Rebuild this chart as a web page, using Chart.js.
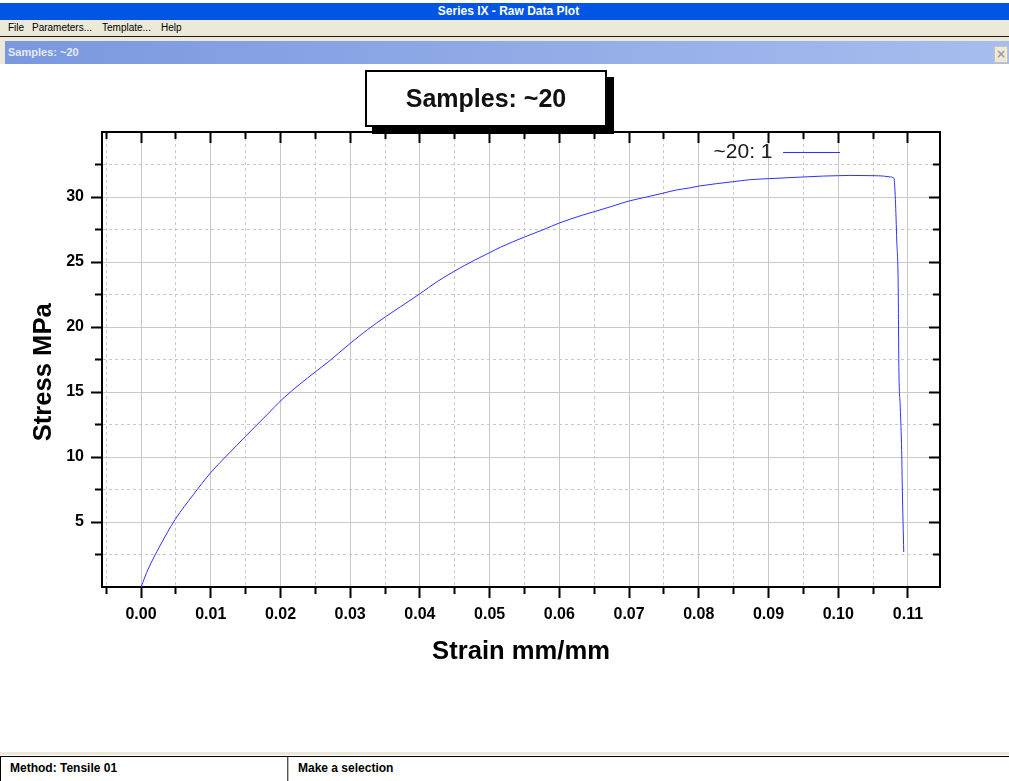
<!DOCTYPE html>
<html>
<head>
<meta charset="utf-8">
<script src="https://cdn.jsdelivr.net/npm/chart.js@4.4.1/dist/chart.umd.min.js"></script>
<style>
html,body{margin:0;padding:0;width:1009px;height:781px;overflow:hidden;background:#fff;font-family:"Liberation Sans",Arial,sans-serif;}
.abs{position:absolute;}
#topwhite{left:0;top:0;width:1009px;height:3px;background:#fff;}
#titlebar{left:0;top:3px;width:1009px;height:17px;background:#0055e5;color:#fff;font:bold 12px "Liberation Sans",Arial,sans-serif;text-align:center;line-height:17px;text-indent:8px;}
#menubar{left:0;top:20px;width:1009px;height:16px;background:#ece9d8;font:10px "Liberation Sans",Arial,sans-serif;color:#000;}
#menubar span{position:absolute;top:2px;}
#menuline{left:0;top:36px;width:1009px;height:1px;background:#1a1a1a;}
#frame{left:0;top:37px;width:1009px;height:4px;background:#ece9d8;}
#frameleft{left:0;top:41px;width:5px;height:23px;background:#ece9d8;}
#mdibar{left:5px;top:41px;width:1004px;height:23px;background:linear-gradient(to right,#7b98df,#a6bdee);color:#e4eaf8;font:bold 11px "Liberation Sans",Arial,sans-serif;line-height:23px;}
#mdibar span{position:absolute;left:3px;top:0;}
#closebtn{left:994px;top:46px;width:12px;height:15px;background:#ece9d8;border:1px solid #c8c4b8;color:#a09c94;font:bold 12px "DejaVu Sans",sans-serif;text-align:center;line-height:15px;}
#clientbottom{left:0;top:752px;width:1009px;height:3px;background:#ece9d8;}
#status{left:0;top:756px;width:1009px;height:25px;background:#fff;border-top:1px solid #000;}
#status .p{position:absolute;top:0;height:25px;font:bold 12px "Liberation Sans",Arial,sans-serif;line-height:22px;color:#000;}
#p1{left:0;width:286px;border-left:1px solid #000;border-right:1px solid #555;}
#p2{left:288px;width:721px;border-left:1px solid #bbb;}
#chart{position:absolute;left:0;top:0;z-index:1;}
#tbox{position:absolute;left:365px;top:70px;width:238px;height:53px;border:2px solid #000;background:#fff;box-shadow:7px 7px 0 #000;z-index:2;
  font:bold 25px "Liberation Sans",Arial,sans-serif;color:#111;display:flex;align-items:center;justify-content:center;}
</style>
</head>
<body>
<div class="abs" id="topwhite"></div>
<div class="abs" id="titlebar">Series IX - Raw Data Plot</div>
<div class="abs" id="menubar">
  <span style="left:8px">File</span>
  <span style="left:32px">Parameters...</span>
  <span style="left:102px">Template...</span>
  <span style="left:161px">Help</span>
</div>
<div class="abs" id="menuline"></div>
<div class="abs" id="frame"></div>
<div class="abs" id="frameleft"></div>
<div class="abs" id="mdibar"><span>Samples: ~20</span></div>
<div class="abs" id="closebtn">×</div>
<div class="abs" id="clientbottom"></div>
<div class="abs" id="status">
  <div class="p" id="p1"><span style="position:absolute;left:9px">Method: Tensile 01</span></div>
  <div class="p" id="p2"><span style="position:absolute;left:9px">Make a selection</span></div>
</div>
<canvas id="chart" width="1009" height="781"></canvas>
<div id="tbox">Samples: ~20</div>
<script>
// ---- data ----
const strain = [0, 0.0010, 0.0027, 0.0049, 0.0075, 0.0100, 0.0121, 0.0150, 0.0176, 0.0205,
  0.0250, 0.0267, 0.0300, 0.0325, 0.0351, 0.0372, 0.0400, 0.0425, 0.0450, 0.0478,
  0.0500, 0.0516, 0.0550, 0.0578, 0.0600, 0.0633, 0.0650, 0.0677, 0.0700, 0.0725,
  0.0750, 0.0768, 0.0787, 0.0800, 0.0850, 0.0873, 0.0900, 0.0950, 0.0979, 0.1000,
  0.1017, 0.1050, 0.1065, 0.1075, 0.1080, 0.1082, 0.1084, 0.1086, 0.1087, 0.1089,
  0.1091, 0.1092, 0.1094];
const stress = [0, 1.35, 3.15, 5.2, 7.1, 8.8, 10.0, 11.6, 13.0, 14.56,
  16.55, 17.25, 18.74, 19.8, 20.8, 21.55, 22.56, 23.5, 24.31, 25.13,
  25.72, 26.15, 26.92, 27.51, 28.0, 28.6, 28.87, 29.31, 29.69, 30.0,
  30.31, 30.54, 30.7, 30.84, 31.18, 31.33, 31.41, 31.54, 31.61, 31.64,
  31.66, 31.64, 31.61, 31.54, 31.43, 29.82, 26.62, 23.29, 16.9, 13.82,
  10.5, 7.43, 2.69];
const strainTicks = [-0.005, 0, 0.005, 0.01, 0.015, 0.02, 0.025, 0.03, 0.035, 0.04, 0.045, 0.05,
  0.055, 0.06, 0.065, 0.07, 0.075, 0.08, 0.085, 0.09, 0.095, 0.1, 0.105, 0.11];
const strainTickLabels = ['', '0.00', '', '0.01', '', '0.02', '', '0.03', '', '0.04', '', '0.05',
  '', '0.06', '', '0.07', '', '0.08', '', '0.09', '', '0.10', '', '0.11'];
const stressTicks = [2.5, 5, 7.5, 10, 12.5, 15, 17.5, 20, 22.5, 25, 27.5, 30, 32.5];
const stressTickLabels = ['', '5', '', '10', '', '15', '', '20', '', '25', '', '30', ''];
const seriesLabel = '~20: 1';
const xTitle = 'Strain mm/mm';
const yTitle = 'Stress MPa';
const strainRange = [-0.0056, 0.1146];
const stressRange = [0, 35];

// ---- chart ----
const FONT = '"Liberation Sans", Arial, sans-serif';
Chart.defaults.font.family = FONT;
Chart.defaults.color = '#000';

const majorOf = labels => c => labels[c.index] !== undefined && labels[c.index] !== '';
const xMajor = majorOf(strainTickLabels);
const yMajor = majorOf(stressTickLabels);
const setX = s => { s.ticks = strainTicks.map(v => ({value: v})); };
const setY = s => { s.ticks = stressTicks.map(v => ({value: v})); };
const gridColor = '#c8c8c8';

const legendInset = {
  id: 'legendInset',
  afterLayout(chart) {
    const lg = chart.legend, a = chart.chartArea;
    if (!lg) return;
    lg.left = a.left; lg.top = a.top;
    lg.width = a.width - 90; lg.right = lg.left + lg.width;
  }
};

new Chart(document.getElementById('chart'), {
  type: 'line',
  data: {
    datasets: [{
      label: seriesLabel,
      data: strain.map((x, i) => ({x, y: stress[i]})),
      borderColor: '#3030ff',
      backgroundColor: 'rgba(0,0,255,0)',
      borderWidth: 1,
      pointRadius: 0,
      cubicInterpolationMode: 'monotone'
    }]
  },
  plugins: [legendInset],
  options: {
    responsive: false,
    animation: false,
    events: [],
    layout: {padding: {left: 20, top: 132, right: 69, bottom: 114}},
    plugins: {
      tooltip: {enabled: false},
      title: {display: false},
      legend: {
        position: 'chartArea',
        align: 'start',
        rtl: true,
        textDirection: 'ltr',
        labels: {boxWidth: 57, boxHeight: 0.001, padding: 10, color: '#1a1a1a',
          font: {size: 21, family: FONT}}
      }
    },
    scales: {
      x: {
        type: 'linear', position: 'bottom', min: strainRange[0], max: strainRange[1],
        afterBuildTicks: setX,
        afterFit: s => { s.height = 80; },
        ticks: {autoSkip: false, maxRotation: 0, minRotation: 0, padding: 7, color: '#000',
          font: {size: 16, weight: 'bold', family: FONT},
          callback: (v, i) => strainTickLabels[i]},
        grid: {color: gridColor, lineWidth: 1, drawTicks: true, tickLength: 11, tickWidth: 2, tickColor: '#000',
          tickBorderDash: c => xMajor(c) ? [] : [6, 100]},
        border: {display: true, color: '#000', width: 2, dash: c => xMajor(c) ? [] : [3, 3]},
        title: {display: true, text: xTitle, color: '#000', padding: {top: 0, bottom: 0},
          font: {size: 25.6, weight: 'bold', family: FONT}}
      },
      x2: {
        type: 'linear', position: 'top', axis: 'x', min: strainRange[0], max: strainRange[1],
        afterBuildTicks: setX,
        afterFit: s => { s.height = 0; },
        ticks: {display: false},
        grid: {drawOnChartArea: false, drawTicks: true, tickLength: -11, tickWidth: 2, tickColor: '#000',
          tickBorderDash: c => xMajor(c) ? [] : [0, 4, 100]},
        border: {display: true, color: '#000', width: 2}
      },
      y: {
        type: 'linear', position: 'left', min: stressRange[0], max: stressRange[1],
        afterBuildTicks: setY,
        afterFit: s => { s.width = 82; },
        ticks: {autoSkip: false, padding: 7, color: '#000',
          font: {size: 16, weight: 'bold', family: FONT},
          callback: (v, i) => stressTickLabels[i]},
        grid: {color: gridColor, lineWidth: 1, drawTicks: true, tickLength: 11, tickWidth: 2, tickColor: '#000',
          tickBorderDash: c => yMajor(c) ? [] : [0, 4, 100]},
        border: {display: true, color: '#000', width: 2, dash: c => yMajor(c) ? [] : [3, 3]},
        title: {display: true, text: yTitle + '\u2002\u2002', color: '#000', padding: {top: 9, bottom: 0},
          font: {size: 25.6, weight: 'bold', family: FONT}}
      },
      y2: {
        type: 'linear', position: 'right', axis: 'y', min: stressRange[0], max: stressRange[1],
        afterBuildTicks: setY,
        afterFit: s => { s.width = 0; },
        ticks: {display: false},
        grid: {drawOnChartArea: false, drawTicks: true, tickLength: -11, tickWidth: 2, tickColor: '#000',
          tickBorderDash: c => yMajor(c) ? [] : [8, 100]},
        border: {display: true, color: '#000', width: 2}
      }
    }
  }
});
</script>
</body>
</html>
